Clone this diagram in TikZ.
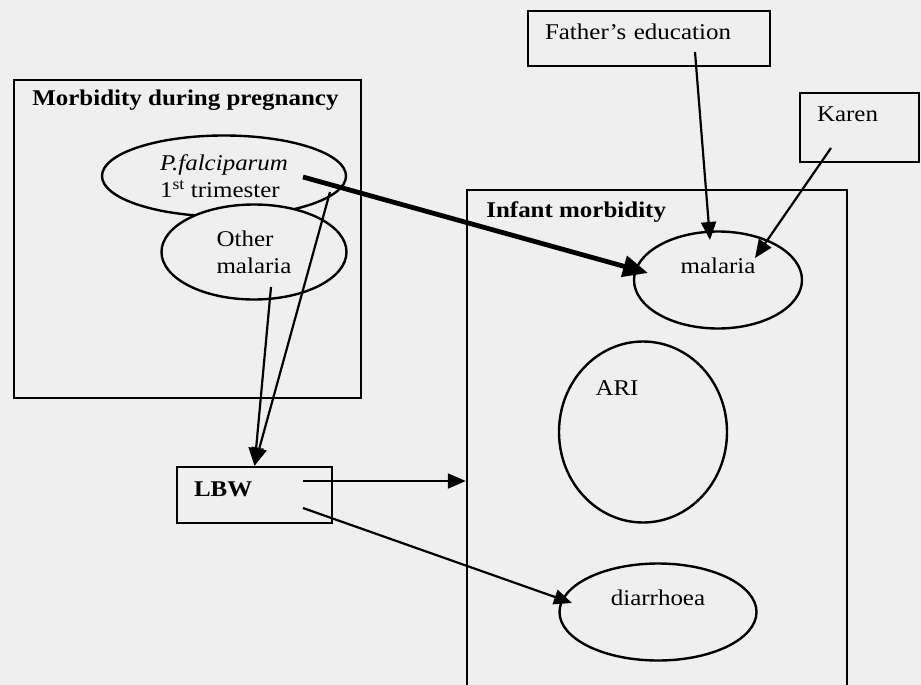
\documentclass[tikz,border=0pt]{standalone}
\usepackage{fontspec}
\setmainfont{Liberation Serif}[FakeStretch=1.11]
\usetikzlibrary{shapes.geometric, arrows.meta, positioning, calc}
\definecolor{paper}{HTML}{EFEFEF}

\begin{document}
\begin{tikzpicture}[x=1pt, y=-1pt,
  group/.style={rectangle, draw, line width=2.4pt, inner sep=0pt},
  factor/.style={rectangle, draw, line width=2.4pt, inner xsep=17pt, inner ysep=0pt, align=left},
  state/.style={ellipse, draw, line width=2.4pt, fill=paper, inner sep=0pt, align=left},
  arrow/.style={-{Triangle[length=18pt, width=15pt]}, line width=2.2pt},
  bigarrow/.style={-{Triangle[length=25pt, width=21pt]}, line width=4.8pt},
  font=\fontsize{22.5}{27}\selectfont
]
  \useasboundingbox (0,0) rectangle (921,685);
  \fill[paper] (0,0) rectangle (921,685);

  % the two frames
  \node[group, minimum width=347pt, minimum height=318pt,
    label={[anchor=base west, xshift=16pt, yshift=-27pt]north west:\textbf{Morbidity during pregnancy}}] (preg) at (187.5,239) {};
  \node[group, minimum width=380pt, minimum height=498pt,
    label={[anchor=base west, xshift=17pt, yshift=-29pt]north west:\textbf{Infant morbidity}}] (infant) at (657,439) {};

  % outside factors
  \node[factor, minimum width=242pt, minimum height=55pt, text width=208pt, text depth=13pt] (father) at (649,38.5) {Father's education};
  \node[factor, minimum width=119pt, minimum height=69pt, text width=85pt, text depth=26pt] (karen) at (859.5,127.5) {Karen};
  \node[factor, minimum width=155pt, minimum height=56pt, text width=121pt, text depth=11pt] (lbw) at (254.5,495) {\textbf{LBW}};

  % pregnancy
  \node[state, minimum width=244pt, minimum height=81pt] (pf) at (224,176) {\textit{P.falciparum}\\1\textsuperscript{st} trimester};
  \node[state, minimum width=185pt, minimum height=95pt] (om) at (254,252) {Other\\malaria};

  % infant
  \node[state, minimum width=168pt, minimum height=97pt, text depth=29pt] (mal) at (718,280) {malaria};
  \node[state, minimum width=168pt, minimum height=181pt,
    label={[xshift=-26pt, yshift=44pt]center:ARI}] (ari) at (643,432) {};
  \node[state, minimum width=197pt, minimum height=97pt, text depth=29pt] (dia) at (658,612) {diarrhoea};

  \coordinate (lbwout) at ([shift={(48.5,-14)}]lbw.center);

  \draw[bigarrow] ([shift={(79,1)}]pf.center) -- ([shift={(-70,-7)}]mal.center);
  \draw[arrow] ([shift={(106,16)}]pf.center) -- (lbw.north);
  \draw[arrow] ([shift={(17,35)}]om.center) -- (lbw.north);
  \draw[arrow] (lbwout) -- (lbwout -| infant.west);
  \draw[arrow] ([shift={(48.5,13)}]lbw.center) -- ([shift={(-86,-9)}]dia.center);
  \draw[arrow] ([shift={(46,13.5)}]father.center) -- ([shift={(-8,-40)}]mal.center);
  \draw[arrow] ([shift={(-28.5,20.5)}]karen.center) -- ([shift={(37,-22)}]mal.center);
\end{tikzpicture}
\end{document}
